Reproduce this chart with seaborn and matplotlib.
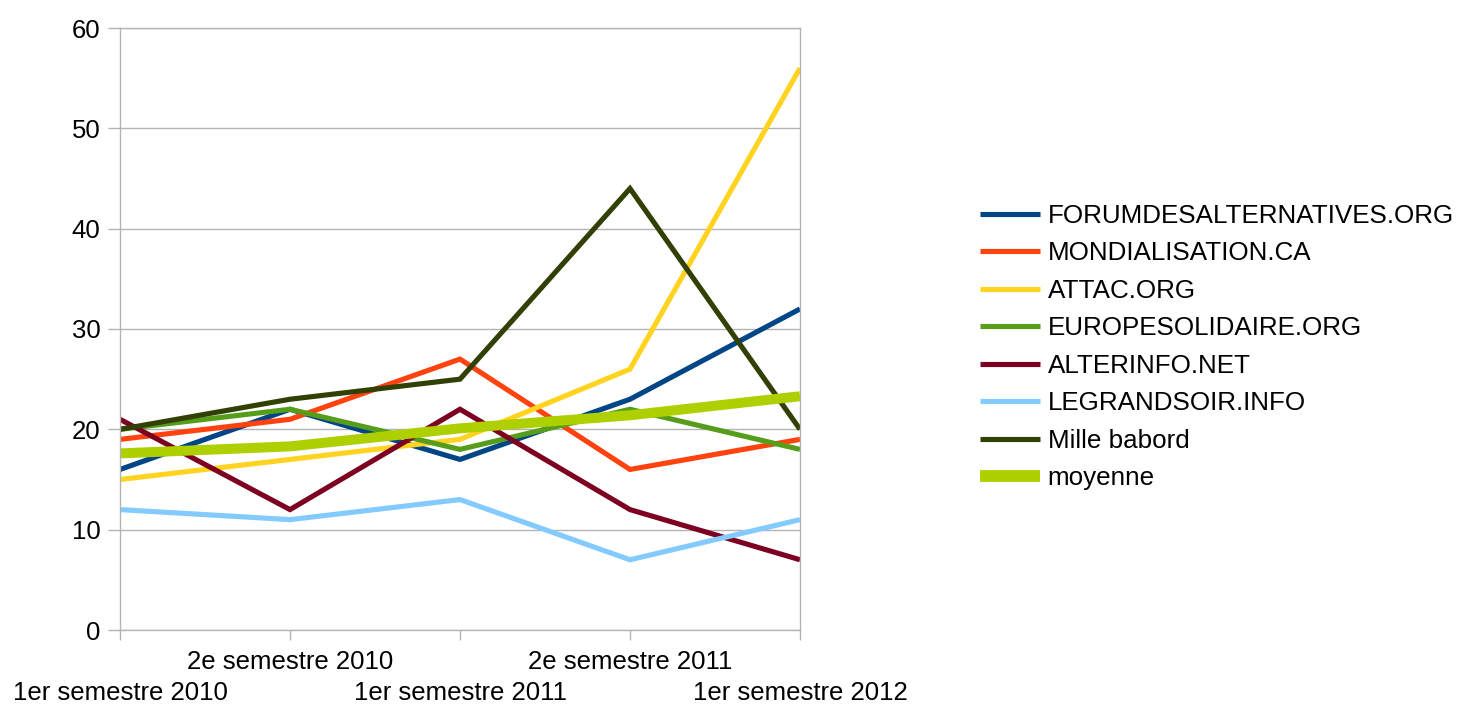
import matplotlib
matplotlib.use("Agg")
import matplotlib.pyplot as plt
import matplotlib.transforms as mtransforms
import seaborn as sns
import pandas as pd
from matplotlib.lines import Line2D

categories = ["1er semestre 2010", "2e semestre 2010", "1er semestre 2011",
              "2e semestre 2011", "1er semestre 2012"]
forum = [16, 22, 17, 23, 32]
mondialisation = [19, 21, 27, 16, 19]
attac = [15, 17, 19, 26, 56]
europesolidaire = [20, 22, 18, 22, 18]
alterinfo = [21, 12, 22, 12, 7]
legrandsoir = [12, 11, 13, 7, 11]
millebabord = [20, 23, 25, 44, 20]
moyenne = [17.6, 18.3, 20.1, 21.4, 23.3]

names = ["FORUMDESALTERNATIVES.ORG", "MONDIALISATION.CA", "ATTAC.ORG",
         "EUROPESOLIDAIRE.ORG", "ALTERINFO.NET", "LEGRANDSOIR.INFO",
         "Mille babord", "moyenne"]
series = [forum, mondialisation, attac, europesolidaire, alterinfo,
          legrandsoir, millebabord, moyenne]
colors = ["#004586", "#ff420e", "#ffd320", "#579d1c", "#7e0021",
          "#83caff", "#314004", "#aecf00"]
widths = [3.7, 3.7, 3.7, 3.7, 3.7, 3.7, 3.7, 7.2]

sns.set_theme(style="white")
plt.rcParams["font.family"] = ["Liberation Sans", "DejaVu Sans"]
plt.rcParams["text.color"] = "black"

fig = plt.figure(figsize=(14.61, 7.05), dpi=100)
ax = fig.add_axes([120/1461, 1-630/705, 680/1461, 602/705])

rows = []
for n, s in zip(names, series):
    for i, v in enumerate(s):
        rows.append({"serie": n, "x": i, "val": v})
df = pd.DataFrame(rows)

handles = []
for n, c, w in zip(names, colors, widths):
    sub = df[df["serie"] == n]
    sns.lineplot(data=sub, x="x", y="val", color=c, linewidth=w, ax=ax,
                 legend=False, solid_joinstyle="miter", solid_capstyle="butt")
    handles.append(Line2D([0], [0], color=c, linewidth=w if w < 5 else 8.5,
                          solid_capstyle="butt"))

ax.set_xlim(0, 4)
ax.set_ylim(0, 60)
ax.set_yticks(range(0, 61, 10))
ax.set_xticks(range(5))
ax.set_xticklabels(categories)
ax.set_xlabel("")
ax.set_ylabel("")
ax.yaxis.grid(True, color="#b3b3b3", linewidth=1)
ax.xaxis.grid(False)
for sp in ax.spines.values():
    sp.set_color("#b3b3b3")
    sp.set_linewidth(1)
ax.tick_params(axis="y", length=8.6, width=1, color="#b3b3b3", pad=5.5,
               labelsize=18.5, labelcolor="black", left=True)
ax.tick_params(axis="x", length=7.2, width=1, color="#b3b3b3", pad=7.5,
               labelsize=18.5, labelcolor="black", bottom=True)
shift = mtransforms.ScaledTranslation(0, -31/100, fig.dpi_scale_trans)
for i, t in enumerate(ax.get_xticklabels()):
    if i % 2 == 0:
        t.set_transform(t.get_transform() + shift)
ax.set_facecolor("white")

leg = fig.legend(handles, names, loc="center left",
                 bbox_to_anchor=(980/1461, 1-347/705), bbox_transform=fig.transFigure,
                 frameon=False, fontsize=18.7, borderpad=0, borderaxespad=0,
                 handlelength=2.3, handletextpad=0.3, labelspacing=0.52)
for t in leg.get_texts():
    t.set_color("black")

fig.savefig("out.png", dpi=100, facecolor="white")
